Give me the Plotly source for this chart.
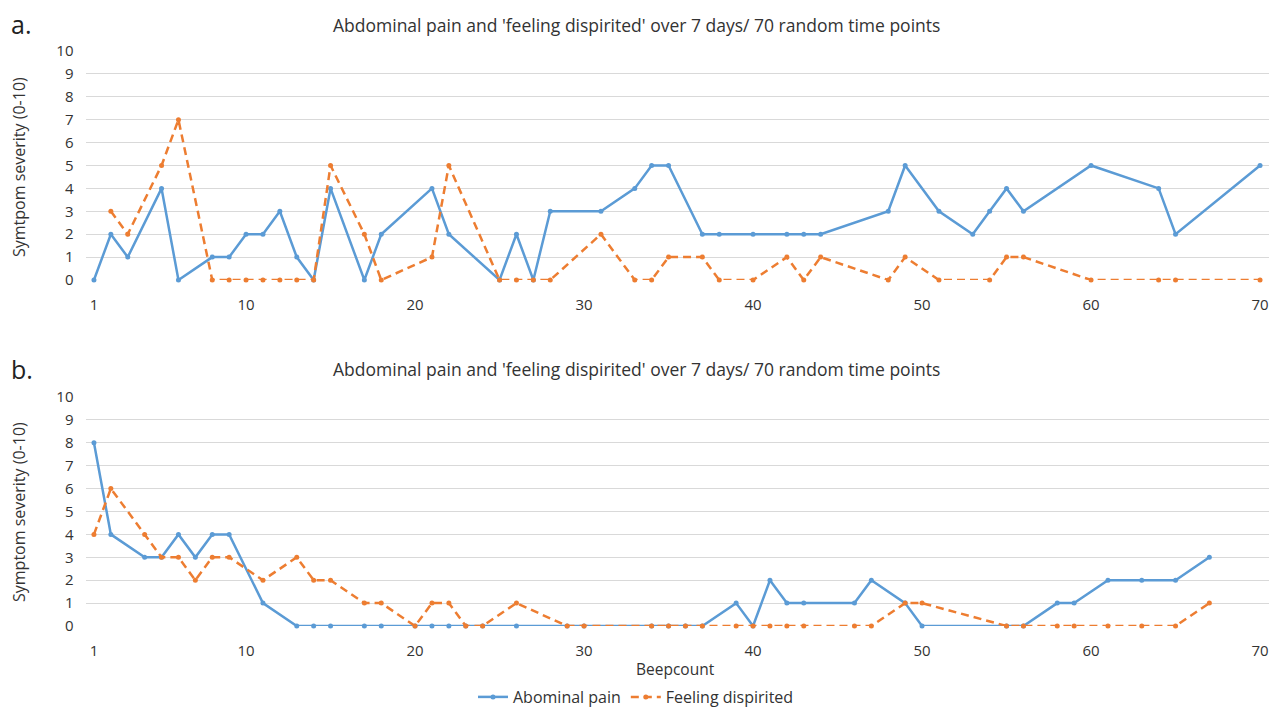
import plotly.graph_objects as go

# ---- Data: chart a ----
beep_a = [1, 2, 3, 5, 6, 8, 9, 10, 11, 12, 13, 14, 15, 17, 18, 21, 22, 25, 26, 27, 28,
          31, 33, 34, 35, 37, 38, 40, 42, 43, 44, 48, 49, 51, 53, 54, 55, 56, 60, 64, 65, 70]
pain_a = [0, 2, 1, 4, 0, 1, 1, 2, 2, 3, 1, 0, 4, 0, 2, 4, 2, 0, 2, 0, 3,
          3, 4, 5, 5, 2, 2, 2, 2, 2, 2, 3, 5, 3, 2, 3, 4, 3, 5, 4, 2, 5]
disp_a = [None, 3, 2, 5, 7, 0, 0, 0, 0, 0, 0, 0, 5, 2, 0, 1, 5, 0, 0, 0, 0,
          2, 0, 0, 1, 1, 0, 0, 1, 0, 1, 0, 1, 0, None, 0, 1, 1, 0, 0, 0, 0]

# ---- Data: chart b ----
beep_b = [1, 2, 4, 5, 6, 7, 8, 9, 11, 13, 14, 15, 17, 18, 20, 21, 22, 23, 24, 26, 29, 30,
          34, 35, 36, 37, 39, 40, 41, 42, 43, 46, 47, 49, 50, 55, 56, 58, 59, 61, 63, 65, 67]
pain_b = [8, 4, 3, 3, 4, 3, 4, 4, 1, 0, 0, 0, 0, 0, 0, 0, 0, 0, 0, 0, 0, 0,
          0, 0, 0, 0, 1, 0, 2, 1, 1, 1, 2, 1, 0, 0, 0, 1, 1, 2, 2, 2, 3]
disp_b = [4, 6, 4, 3, 3, 2, 3, 3, 2, 3, 2, 2, 1, 1, 0, 1, 1, 0, 0, 1, 0, 0,
          0, 0, 0, 0, 0, 0, 0, 0, 0, 0, 0, 1, 1, 0, 0, 0, 0, 0, 0, 0, 1]

x_ticks = [1, 10, 20, 30, 40, 50, 60, 70]
y_ticks = list(range(0, 11))
title_text = "Abdominal pain and 'feeling dispirited' over 7 days/ 70 random time points"

BLUE = "#5B9BD5"
ORANGE = "#ED7D31"
FONT = "Open Sans"
TXT = "#333333"
OFF = 8               # page body margin
W, H = 1277 - OFF, 714 - OFF

fig = go.Figure()


def add_pair(xv, pv, dv, xa, ya, legend):
    fig.add_trace(go.Scatter(x=xv, y=pv, mode="lines+markers", name="Abominal pain",
                             line=dict(color=BLUE, width=2.5),
                             marker=dict(color=BLUE, size=5),
                             connectgaps=True, cliponaxis=False,
                             xaxis=xa, yaxis=ya, showlegend=legend))
    fig.add_trace(go.Scatter(x=xv, y=dv, mode="lines+markers", name="Feeling dispirited",
                             line=dict(color=ORANGE, width=2.5, dash="8px,5px"),
                             marker=dict(color=ORANGE, size=5),
                             connectgaps=True, cliponaxis=False,
                             xaxis=xa, yaxis=ya, showlegend=legend))


add_pair(beep_a, pain_a, disp_a, "x", "y", True)
add_pair(beep_b, pain_b, disp_b, "x2", "y2", False)


def py(p):
    return 1 - (p - OFF) / H


def px(p):
    return (p - OFF) / W


xdom = [px(85.5), px(1268.5)]
xcommon = dict(range=[0.5, 70.5], tickmode="array", tickvals=x_ticks,
               showgrid=False, zeroline=False, showline=False, automargin=False,
               tickfont=dict(family=FONT, size=15, color=TXT),
               ticks="outside", ticklen=11, tickcolor="rgba(0,0,0,0)")
ycommon = dict(range=[0, 10], tickmode="array", tickvals=y_ticks,
               showgrid=True, gridcolor="#D9D9D9", gridwidth=1,
               zeroline=False, showline=False, automargin=False,
               tickfont=dict(family=FONT, size=15, color=TXT),
               ticks="outside", ticklen=8, tickcolor="rgba(0,0,0,0)")

fig.update_layout(
    width=W, height=H,
    margin=dict(l=0, r=0, t=0, b=0),
    paper_bgcolor="white", plot_bgcolor="white",
    font=dict(family=FONT, color=TXT),
    xaxis=dict(domain=xdom, anchor="y", **xcommon),
    yaxis=dict(domain=[py(280), py(51)], anchor="x", **ycommon),
    xaxis2=dict(domain=xdom, anchor="y2", **xcommon),
    yaxis2=dict(domain=[py(626), py(397)], anchor="x2", **ycommon),
    legend=dict(orientation="h", x=px(636), xanchor="center", y=0, yanchor="bottom",
                font=dict(family=FONT, size=16, color=TXT), itemwidth=30,
                bgcolor="rgba(0,0,0,0)"),
)

ann = [
    dict(text="a.", x=px(9), y=py(24), xanchor="left", yanchor="middle", font=dict(size=25, color="#222")),
    dict(text="b.", x=px(9), y=py(369), xanchor="left", yanchor="middle", font=dict(size=25, color="#222")),
    dict(text=title_text, x=px(636), y=py(25), xanchor="center", yanchor="middle", font=dict(size=17.5, color=TXT)),
    dict(text=title_text, x=px(636), y=py(369), xanchor="center", yanchor="middle", font=dict(size=17.5, color=TXT)),
    dict(text="Symtpom severity (0-10)", x=px(19), y=py(167), xanchor="center", yanchor="middle",
         textangle=-90, font=dict(size=16, color=TXT)),
    dict(text="Symptom severity (0-10)", x=px(19), y=py(512), xanchor="center", yanchor="middle",
         textangle=-90, font=dict(size=16, color=TXT)),
    dict(text="Beepcount", x=px(675), y=py(669), xanchor="center", yanchor="middle", font=dict(size=15.5, color=TXT)),
]
for a in ann:
    a.update(xref="paper", yref="paper", showarrow=False)
    a["font"]["family"] = FONT
fig.update_layout(annotations=ann)

fig.write_html("out.html")
